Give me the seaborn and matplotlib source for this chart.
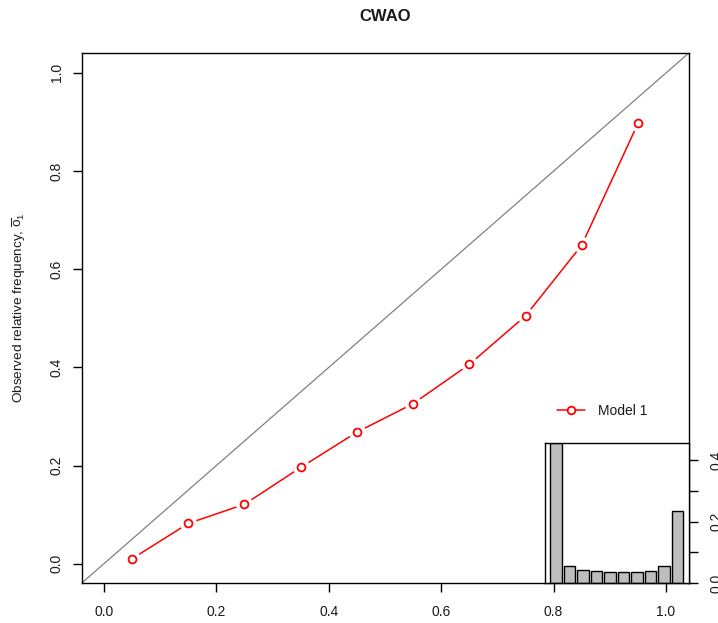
import matplotlib
matplotlib.use("Agg")
import matplotlib.pyplot as plt
from matplotlib.lines import Line2D
import pandas as pd
import seaborn as sns

# Reliability diagram: forecast probability bin centres vs observed relative frequency
forecast_prob = [0.05, 0.15, 0.25, 0.35, 0.45, 0.55, 0.65, 0.75, 0.85, 0.95]
observed_freq = [0.010, 0.082, 0.121, 0.196, 0.268, 0.326, 0.406, 0.505, 0.649, 0.897]
series_name = "Model 1"
title_text = "CWAO"
y_label = r"Observed relative frequency, $\overline{\mathrm{o}}_1$"

# Sharpness histogram: relative frequency of forecasts per probability bin
bin_labels = ["0.0-0.1", "0.1-0.2", "0.2-0.3", "0.3-0.4", "0.4-0.5",
              "0.5-0.6", "0.6-0.7", "0.7-0.8", "0.8-0.9", "0.9-1.0"]
bin_freq = [0.454, 0.057, 0.044, 0.040, 0.036, 0.036, 0.036, 0.040, 0.057, 0.234]

axis_ticks = [0.0, 0.2, 0.4, 0.6, 0.8, 1.0]
axis_tick_labels = ["0.0", "0.2", "0.4", "0.6", "0.8", "1.0"]
hist_ticks = [0.0, 0.1, 0.2, 0.3, 0.4]
hist_tick_labels = ["0.0", "", "0.2", "", "0.4"]

sns.set_theme(style="ticks")
plt.rcParams["font.family"] = ["Liberation Sans", "DejaVu Sans"]
plt.rcParams["mathtext.fontset"] = "custom"
plt.rcParams["mathtext.rm"] = "Liberation Sans"
plt.rcParams["mathtext.it"] = "Liberation Sans:italic"
plt.rcParams["mathtext.bf"] = "Liberation Sans:bold"

W, H = 718, 623
fig = plt.figure(figsize=(W / 100, H / 100), dpi=100)
fig.patch.set_facecolor("white")

TXT = "#1a1a1a"
FS = 10.0

# ---- main reliability panel ----
ax = fig.add_axes([81.5 / W, 1 - 583.3 / H, 607 / W, 530 / H])
ax.set_facecolor("white")
ax.axline((0, 0), slope=1, color="#808080", lw=0.9, zorder=1)
sns.lineplot(x=forecast_prob, y=observed_freq, color="red", linewidth=1.1,
             ax=ax, zorder=2, legend=False)
# white halo leaves a gap between the line and each point marker
sns.scatterplot(x=forecast_prob, y=observed_freq, s=150, color="white",
                linewidth=0, ax=ax, zorder=3, legend=False)
sns.scatterplot(x=forecast_prob, y=observed_freq, s=32, color="white",
                edgecolor="red", linewidth=1.3, ax=ax, zorder=4, legend=False)

ax.set_xlim(-0.04, 1.04)
ax.set_ylim(-0.04, 1.04)
ax.set_xticks(axis_ticks)
ax.set_xticklabels(axis_tick_labels)
ax.set_yticks(axis_ticks)
ax.set_yticklabels(axis_tick_labels)
for s in ax.spines.values():
    s.set_visible(True)
    s.set_color("black")
    s.set_linewidth(1.0)
ax.tick_params(direction="out", length=6.8, width=1, color="black",
               labelsize=FS, labelcolor=TXT)
ax.tick_params(axis="x", pad=8.5)
ax.tick_params(axis="y", pad=6.0, labelrotation=90)
plt.setp(ax.get_yticklabels(), va="center")

ax.set_title(title_text, fontsize=12, fontweight="bold", color=TXT, pad=23)
ax.set_ylabel(y_label, fontsize=9.7, color=TXT)
ax.yaxis.set_label_coords(-0.088, 0.521)

handle = Line2D([], [], color="red", lw=1.1, marker="o", ms=5.5,
                mfc="white", mec="red", mew=1.3)
ax.legend([handle], [series_name], loc="center left",
          bbox_to_anchor=(0.784, 0.3257), frameon=False, borderaxespad=0,
          borderpad=0, handlelength=2.0, handletextpad=0.95, fontsize=FS,
          labelcolor=TXT)

# ---- inset sharpness histogram ----
axh = fig.add_axes([545 / W, 1 - 583.3 / H, 143.5 / W, 140 / H])
axh.set_facecolor("white")
hist_df = pd.DataFrame({"bin": bin_labels, "freq": bin_freq})
sns.barplot(data=hist_df, x="bin", y="freq", order=bin_labels,
            color="#bebebe", saturation=1, width=1 / 1.2,
            edgecolor="black", linewidth=1.0, errorbar=None, ax=axh)
axh.set_xlim(-0.81, 9.81)
axh.set_ylim(0, 0.454)
axh.set_xticks([])
axh.set_xlabel("")
axh.set_ylabel("")
axh.yaxis.tick_right()
axh.set_yticks(hist_ticks)
axh.set_yticklabels(hist_tick_labels)
for s in axh.spines.values():
    s.set_visible(True)
    s.set_color("black")
    s.set_linewidth(1.0)
axh.tick_params(axis="y", direction="out", length=6.8, width=1, color="black",
                pad=8.0, labelsize=FS, labelcolor=TXT, labelrotation=90,
                right=True, left=False)
plt.setp(axh.get_yticklabels(), va="center")

fig.savefig("out.png", dpi=100, facecolor="white")
